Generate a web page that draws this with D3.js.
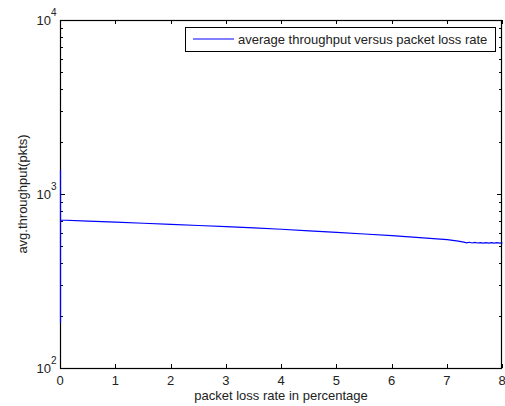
<!DOCTYPE html>
<html>
<head>
<meta charset="utf-8">
<script src="https://cdn.jsdelivr.net/npm/d3@7"></script>
<style>
  body { margin: 0; background: #fff; }
  svg { display: block; font-family: Arial, "Liberation Sans", Helvetica, sans-serif; }
</style>
</head>
<body>
<svg id="chart" width="505" height="406"></svg>
<script>
// ---- data ----
const lossRate = [0, 0, 0, 0.5, 1.0, 1.5, 2.0, 2.5, 3.0, 3.5, 4.0, 4.5, 5.0, 5.5, 6.0, 6.5, 7.0, 7.2,
  7.3, 7.35, 7.4, 7.45, 7.5, 7.55, 7.6, 7.65, 7.7, 7.75, 7.8, 7.85, 7.9, 7.95, 8.0];
const avgThroughput = [182, 1374, 709, 699, 689, 679, 669, 659, 649, 638, 627, 614, 602, 589, 577, 562, 547, 536,
  529, 524, 528, 523, 527, 523, 526, 522, 526, 522, 525, 522, 525, 522, 524];
const xTicks = [0, 1, 2, 3, 4, 5, 6, 7, 8];
const yMajorExponents = [2, 3, 4];
const legendLabel = "average throughput versus packet loss rate";
const xLabel = "packet loss rate in percentage";
const yLabel = "avg.throughput(pkts)";

// ---- layout ----
const svg = d3.select("#chart");
const L = 60, R = 502, T = 20, B = 368;

const x = d3.scaleLinear().domain([0, 8]).range([L, R]);
const y = d3.scaleLog().domain([100, 10000]).range([B, T]);

// frame
svg.append("rect")
  .attr("x", L + 0.5).attr("y", T + 0.5)
  .attr("width", R - L - 1).attr("height", B - T)
  .attr("fill", "#fff").attr("stroke", "#000").attr("stroke-width", 1.2);

// minor log ticks
const minorVals = [];
for (let e = 2; e < 4; e++) for (let m = 2; m <= 9; m++) minorVals.push(m * Math.pow(10, e));

const tickG = svg.append("g").attr("stroke", "#000").attr("stroke-width", 1).attr("shape-rendering", "crispEdges");
minorVals.forEach(v => {
  const yy = Math.round(y(v)) + 0.5;
  tickG.append("line").attr("x1", L).attr("x2", L + 3).attr("y1", yy).attr("y2", yy);
  tickG.append("line").attr("x1", R - 3).attr("x2", R).attr("y1", yy).attr("y2", yy);
});
yMajorExponents.forEach(e => {
  const yy = Math.round(y(Math.pow(10, e))) + 0.5;
  tickG.append("line").attr("x1", L).attr("x2", L + 5).attr("y1", yy).attr("y2", yy);
  tickG.append("line").attr("x1", R - 5).attr("x2", R).attr("y1", yy).attr("y2", yy);
});
xTicks.forEach(t => {
  const xx = Math.round(x(t)) + 0.5;
  tickG.append("line").attr("x1", xx).attr("x2", xx).attr("y1", B).attr("y2", B - 4);
  tickG.append("line").attr("x1", xx).attr("x2", xx).attr("y1", T).attr("y2", T + 4);
});

// data line (drawn over the frame)
const line = d3.line().x((d, i) => x(lossRate[i]) + 0.5).y(d => y(d));
svg.append("path")
  .datum(avgThroughput)
  .attr("d", line)
  .attr("fill", "none")
  .attr("stroke", "#0000ff")
  .attr("stroke-width", 1.2);

// x tick labels
svg.append("g").selectAll("text").data(xTicks).join("text")
  .attr("x", d => x(d)).attr("y", B + 17)
  .attr("text-anchor", "middle")
  .attr("font-size", 13).attr("fill", "#222")
  .text(d => d);

// y tick labels (10^e)
yMajorExponents.forEach(e => {
  const yy = y(Math.pow(10, e));
  svg.append("text").attr("x", 51).attr("y", yy + 5)
    .attr("text-anchor", "end").attr("font-size", 13).attr("fill", "#222").text("10");
  svg.append("text").attr("x", 51).attr("y", yy - 4)
    .attr("font-size", 10).attr("fill", "#222").text(e);
});

// axis labels
svg.append("text").attr("x", (L + R) / 2).attr("y", 400)
  .attr("text-anchor", "middle").attr("font-size", 13).attr("fill", "#222").text(xLabel);
svg.append("text")
  .attr("transform", `translate(27,${(T + B) / 2}) rotate(-90)`)
  .attr("text-anchor", "middle").attr("font-size", 13).attr("fill", "#222").text(yLabel);

// legend
const lg = svg.append("g");
lg.append("rect").attr("x", 185.5).attr("y", 27.5).attr("width", 310).attr("height", 24)
  .attr("fill", "#fff").attr("stroke", "#000").attr("stroke-width", 1);
lg.append("line").attr("x1", 193).attr("x2", 234).attr("y1", 39).attr("y2", 39)
  .attr("stroke", "#0000ff").attr("stroke-width", 1.2);
lg.append("text").attr("x", 238).attr("y", 44).attr("font-size", 13).attr("fill", "#222").text(legendLabel);
</script>
</body>
</html>
